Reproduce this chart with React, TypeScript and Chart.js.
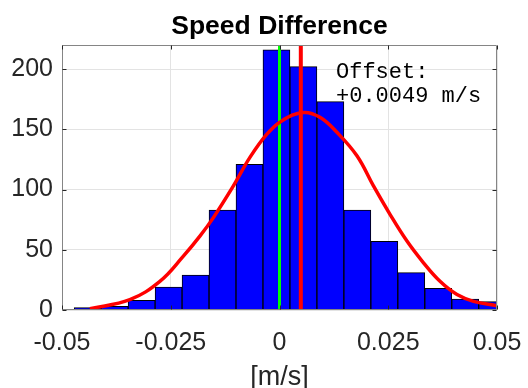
import React, { useEffect, useRef } from "react";
import { Chart, registerables } from "chart.js";

Chart.register(...registerables);

// ---- data ----
const binCenters = [-0.0441, -0.0379, -0.0317, -0.0255, -0.0193, -0.0131, -0.0069, -0.0007, 0.0055, 0.0117, 0.0179, 0.0241, 0.0303, 0.0365, 0.0427, 0.0489];
const binCounts = [2, 3, 8, 19, 29, 83, 121, 216, 202, 173, 83, 57, 31, 18, 9, 7];

const fitX = [-0.0436, -0.0344, -0.0275, -0.0221, -0.0183, -0.0152, -0.0106, -0.0068, -0.0029, 0.0005, 0.0055, 0.0093, 0.0132, 0.0178, 0.0216, 0.0254, 0.0293, 0.0331, 0.0369, 0.0408, 0.0446, 0.05];
const fitY = [1.1, 8.6, 23.8, 44.7, 61.3, 76.7, 103, 126.7, 146, 157, 164, 160, 147.5, 128, 103, 79.4, 57.2, 39.2, 23.8, 12.8, 7.2, 3.6];

const zeroLineX = 0;
const offsetLineX = 0.0049;

const xTickValues = [-0.05, -0.025, 0, 0.025, 0.05];
const xTickLabels = ["-0.05", "-0.025", "0", "0.025", "0.05"];
const yTickValues = [0, 50, 100, 150, 200];
const yTickLabels = ["0", "50", "100", "150", "200"];

const xMin = -0.05;
const xMax = 0.05;
const yMin = 0;
const yMax = 220;

const titleText = "Speed Difference";
const xAxisLabel = "[m/s]";
const annotationLines = ["Offset:", "+0.0049 m/s"];

const W = 528;
const H = 388;

export default function App() {
  const canvasRef = useRef<HTMLCanvasElement | null>(null);

  useEffect(() => {
    const canvas = canvasRef.current;
    if (!canvas) return;

    const boxPlugin = {
      id: "boxAndText",
      afterDatasetsDraw(chart: any) {
        const { ctx, chartArea } = chart;
        const xs = chart.scales.x;
        const ys = chart.scales.y;
        ctx.save();
        ctx.strokeStyle = "#858585";
        ctx.lineWidth = 1;
        const l = Math.round(chartArea.left) + 0.5;
        const r = Math.round(chartArea.right) - 0.5;
        const t = Math.round(chartArea.top) + 0.5;
        const b = Math.round(chartArea.bottom) - 0.5;
        ctx.beginPath();
        ctx.moveTo(l, t);
        ctx.lineTo(r, t);
        ctx.lineTo(r, b);
        ctx.lineTo(l, b);
        ctx.closePath();
        ctx.stroke();
        ctx.strokeStyle = "#262626";
        const tl = 4;
        ctx.beginPath();
        xTickValues.forEach((v) => {
          const px = Math.round(xs.getPixelForValue(v)) + 0.5;
          ctx.moveTo(px, b);
          ctx.lineTo(px, b - tl);
          ctx.moveTo(px, t);
          ctx.lineTo(px, t + tl);
        });
        yTickValues.forEach((v) => {
          const py = Math.round(ys.getPixelForValue(v)) + 0.5;
          ctx.moveTo(l, py);
          ctx.lineTo(l + tl, py);
          ctx.moveTo(r, py);
          ctx.lineTo(r - tl, py);
        });
        ctx.stroke();
        ctx.restore();
      },
      afterDraw(chart: any) {
        const { ctx, chartArea } = chart;
        ctx.save();
        ctx.fillStyle = "#000000";
        ctx.font = 'bold 26.5px "Liberation Sans", Arial, sans-serif';
        ctx.textAlign = "center";
        ctx.textBaseline = "alphabetic";
        ctx.fillText(titleText, (chartArea.left + chartArea.right) / 2, 33.5);
        ctx.font = '22px "Liberation Mono", "Courier New", monospace';
        ctx.textAlign = "left";
        ctx.fillStyle = "#000000";
        ctx.fillText(annotationLines[0], 336, 78);
        ctx.fillText(annotationLines[1], 336, 102);
        ctx.restore();
      },
    };

    const chart = new Chart(canvas, {
      type: "bar",
      data: {
        datasets: [
          {
            type: "line",
            label: "fit",
            data: fitX.map((x, i) => ({ x, y: fitY[i] })),
            borderColor: "#ff0000",
            borderWidth: 3.5,
            pointRadius: 0,
            tension: 0.4,
            fill: false,
            clip: 0,
          } as any,
          {
            type: "line",
            label: "offset",
            data: [
              { x: offsetLineX, y: yMin },
              { x: offsetLineX, y: yMax },
            ],
            borderColor: "#ff0000",
            borderWidth: 4,
            pointRadius: 0,
            fill: false,
            clip: 0,
          } as any,
          {
            type: "line",
            label: "zero",
            data: [
              { x: zeroLineX, y: yMin },
              { x: zeroLineX, y: yMax },
            ],
            borderColor: "#00ff00",
            borderWidth: 3,
            pointRadius: 0,
            fill: false,
            clip: 0,
          } as any,
          {
            type: "bar",
            label: "hist",
            data: binCenters.map((x, i) => ({ x, y: binCounts[i] })),
            backgroundColor: "#0000ff",
            borderColor: "#000000",
            borderWidth: 1,
            barPercentage: 1,
            categoryPercentage: 1,
            clip: 0,
          } as any,
        ],
      },
      options: {
        responsive: false,
        animation: false,
        events: [],
        layout: { padding: { top: 45, right: 31, left: 0, bottom: 0 } },
        plugins: {
          legend: { display: false },
          tooltip: { enabled: false },
          title: { display: false },
        },
        scales: {
          x: {
            type: "linear",
            min: xMin,
            max: xMax,
            offset: false,
            afterBuildTicks: (scale: any) => {
              scale.ticks = xTickValues.map((v) => ({ value: v }));
            },
            afterFit: (scale: any) => {
              scale.height = 78;
              scale.paddingLeft = 0;
              scale.paddingRight = 0;
            },
            grid: {
              color: "#e3e3e3",
              lineWidth: 1,
              drawTicks: false,
              offset: false,
            },
            border: { display: false },
            ticks: {
              padding: 18,
              maxRotation: 0,
              autoSkip: false,
              color: "#262626",
              font: { family: '"Liberation Sans", Arial, sans-serif', size: 25 },
              callback: (value: any) => {
                const i = xTickValues.findIndex((v) => Math.abs(v - Number(value)) < 1e-9);
                return i >= 0 ? xTickLabels[i] : "";
              },
            },
            title: {
              display: true,
              text: xAxisLabel,
              color: "#262626",
              font: { family: '"Liberation Sans", Arial, sans-serif', size: 27 },
              padding: { top: 0, bottom: -6 },
            },
          },
          y: {
            type: "linear",
            min: yMin,
            max: yMax,
            afterBuildTicks: (scale: any) => {
              scale.ticks = yTickValues.map((v) => ({ value: v }));
            },
            afterFit: (scale: any) => {
              scale.width = 62;
              scale.paddingTop = 0;
              scale.paddingBottom = 0;
            },
            grid: {
              color: "#e3e3e3",
              lineWidth: 1,
              drawTicks: false,
            },
            border: { display: false },
            ticks: {
              padding: 9,
              color: "#262626",
              font: { family: '"Liberation Sans", Arial, sans-serif', size: 25 },
              callback: (value: any) => {
                const i = yTickValues.findIndex((v) => Math.abs(v - Number(value)) < 1e-9);
                return i >= 0 ? yTickLabels[i] : "";
              },
            },
          },
        },
      },
      plugins: [boxPlugin],
    } as any);

    return () => {
      chart.destroy();
    };
  }, []);

  return (
    <div style={{ position: "absolute", left: 0, top: 0, width: W, height: H, background: "#ffffff" }}>
      <canvas ref={canvasRef} width={W} height={H} style={{ display: "block", width: W, height: H }} />
    </div>
  );
}
